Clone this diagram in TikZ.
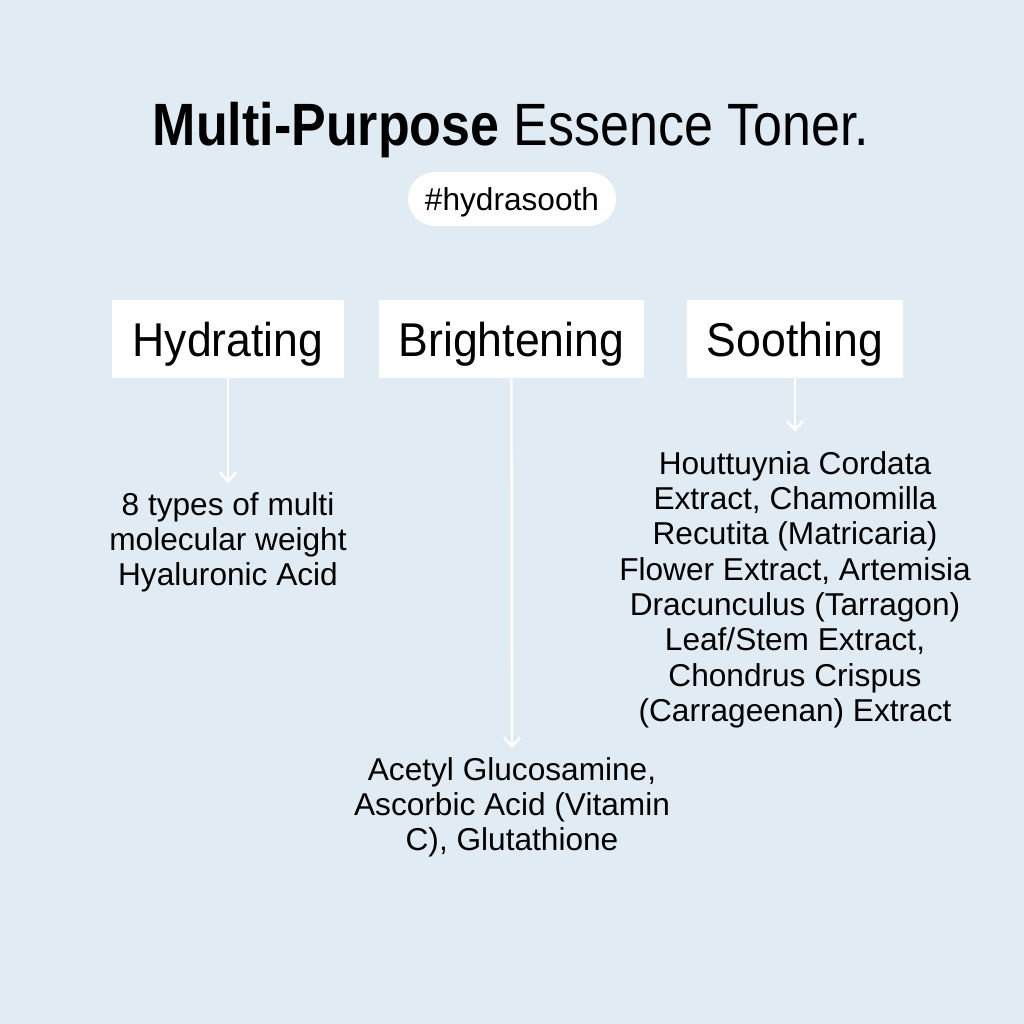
\documentclass[tikz,border=0pt]{standalone}
\usepackage{fontspec}
\setmainfont{Liberation Sans}
\newfontfamily\titlefont[FakeStretch=0.87]{Liberation Sans}
\newfontfamily\tabfont[FakeStretch=0.94]{Liberation Sans}
\usepackage{tikz}
\usetikzlibrary{arrows.meta, positioning}

\definecolor{bgblue}{RGB}{225,235,244}

\begin{document}
\begin{tikzpicture}[
  x=0.02cm, y=-0.02cm,
  tab/.style={rectangle, fill=white, minimum height=1.56cm, inner sep=0pt, text depth=0pt, font=\tabfont\fontsize{27}{30}\selectfont},
  pill/.style={rectangle, fill=white, rounded corners=0.54cm, minimum width=4.16cm, minimum height=1.08cm, text depth=0pt, font=\fontsize{18}{20}\selectfont},
  body/.style={align=center, inner sep=0pt, anchor=north, font=\fontsize{18}{20.1}\selectfont},
  arr/.style={draw=white, line width=1.3pt, -{Straight Barb[length=5pt, width=9pt, line width=1.4pt]}},
]
% background
\fill[bgblue] (0,0) rectangle (1024,1024);

% heading
\node (title) at (511,130) {\titlefont\fontsize{34}{40}\selectfont\textbf{Multi-Purpose} Essence Toner.};
\node[pill] (tag) at (512,199) {\#hydrasooth};

% the three tabs
\node[tab, minimum width=4.64cm] (hyd) at (228,339) {Hydrating};
\node[tab, minimum width=5.30cm] (bright) at (511.5,339) {Brightening};
\node[tab, minimum width=4.32cm] (sooth) at (795,339) {Soothing};

% ingredients
\node[body] (hydtxt) at (228,492) {8 types of multi\\molecular weight\\Hyaluronic Acid};
\node[body] (brighttxt) at (512,757) {Acetyl Glucosamine,\\Ascorbic Acid (Vitamin\\C), Glutathione};
\node[body] (soothtxt) at (795,451) {Houttuynia Cordata\\Extract, Chamomilla\\Recutita (Matricaria)\\Flower Extract, Artemisia\\Dracunculus (Tarragon)\\Leaf/Stem Extract,\\Chondrus Crispus\\(Carrageenan) Extract};

% arrows
\draw[arr, shorten >=5pt] (hyd.south) -- (hydtxt.north);
\draw[arr, shorten >=5pt] (bright.south) -- (brighttxt.north);
\draw[arr, shorten >=11pt] (sooth.south) -- (soothtxt.north);
\end{tikzpicture}
\end{document}
